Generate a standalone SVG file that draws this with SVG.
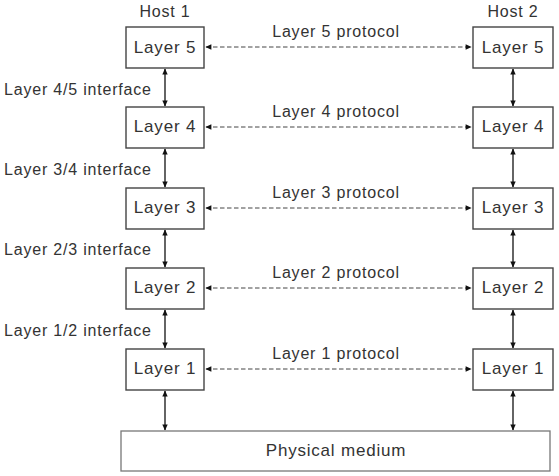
<svg xmlns="http://www.w3.org/2000/svg" width="559" height="476" viewBox="0 0 559 476">
<defs>
<marker id="ah" viewBox="0 0 10 10" refX="9" refY="5" markerWidth="7" markerHeight="6" orient="auto-start-reverse" markerUnits="userSpaceOnUse">
<path d="M0,0.5 L10,5 L0,9.5 Z" fill="#111"/>
</marker>
</defs>
<style>
text{font-family:"Liberation Sans",Arial,sans-serif;font-size:16px;letter-spacing:0.8px;fill:#333}
.c{text-anchor:middle}
.b{font-size:17px}
.box{fill:#fff;stroke:#444;stroke-width:1.4}
.pbox{fill:#fff;stroke:#777;stroke-width:1.3}
.v{stroke:#111;stroke-width:1.3;fill:none}
.d{stroke:#444;stroke-width:1;stroke-dasharray:4.5,2.5;fill:none}
</style>
<text class="c" x="165" y="17">Host 1</text>
<text class="c" x="513" y="17">Host 2</text>
<g id="connectors">
<line class="v" x1="165" y1="69" x2="165" y2="106" marker-start="url(#ah)" marker-end="url(#ah)"/>
<line class="v" x1="165" y1="149" x2="165" y2="187" marker-start="url(#ah)" marker-end="url(#ah)"/>
<line class="v" x1="165" y1="230" x2="165" y2="267" marker-start="url(#ah)" marker-end="url(#ah)"/>
<line class="v" x1="165" y1="310" x2="165" y2="348" marker-start="url(#ah)" marker-end="url(#ah)"/>
<line class="v" x1="165" y1="391" x2="165" y2="430" marker-start="url(#ah)" marker-end="url(#ah)"/>
<line class="v" x1="513" y1="69" x2="513" y2="106" marker-start="url(#ah)" marker-end="url(#ah)"/>
<line class="v" x1="513" y1="149" x2="513" y2="187" marker-start="url(#ah)" marker-end="url(#ah)"/>
<line class="v" x1="513" y1="230" x2="513" y2="267" marker-start="url(#ah)" marker-end="url(#ah)"/>
<line class="v" x1="513" y1="310" x2="513" y2="348" marker-start="url(#ah)" marker-end="url(#ah)"/>
<line class="v" x1="513" y1="391" x2="513" y2="430" marker-start="url(#ah)" marker-end="url(#ah)"/>
<line class="d" x1="206" y1="47" x2="471" y2="47" marker-start="url(#ah)" marker-end="url(#ah)"/>
<line class="d" x1="206" y1="127" x2="471" y2="127" marker-start="url(#ah)" marker-end="url(#ah)"/>
<line class="d" x1="206" y1="208" x2="471" y2="208" marker-start="url(#ah)" marker-end="url(#ah)"/>
<line class="d" x1="206" y1="288" x2="471" y2="288" marker-start="url(#ah)" marker-end="url(#ah)"/>
<line class="d" x1="206" y1="369" x2="471" y2="369" marker-start="url(#ah)" marker-end="url(#ah)"/>
<text class="c" x="336" y="37">Layer 5 protocol</text>
<text class="c" x="336" y="117">Layer 4 protocol</text>
<text class="c" x="336" y="198">Layer 3 protocol</text>
<text class="c" x="336" y="278">Layer 2 protocol</text>
<text class="c" x="336" y="359">Layer 1 protocol</text>
<text x="4" y="95">Layer 4/5 interface</text>
<text x="4" y="175">Layer 3/4 interface</text>
<text x="4" y="255">Layer 2/3 interface</text>
<text x="4" y="336">Layer 1/2 interface</text>
</g>
<g id="h1l5"><rect class="box" x="126" y="27" width="78" height="41"/><text class="c b" x="165" y="53">Layer 5</text></g>
<g id="h1l4"><rect class="box" x="126" y="107" width="78" height="41"/><text class="c b" x="165" y="132">Layer 4</text></g>
<g id="h1l3"><rect class="box" x="126" y="188" width="78" height="41"/><text class="c b" x="165" y="213">Layer 3</text></g>
<g id="h1l2"><rect class="box" x="126" y="268" width="78" height="41"/><text class="c b" x="165" y="293">Layer 2</text></g>
<g id="h1l1"><rect class="box" x="126" y="349" width="78" height="41"/><text class="c b" x="165" y="374">Layer 1</text></g>
<g id="h2l5"><rect class="box" x="473" y="27" width="80" height="41"/><text class="c b" x="513" y="53">Layer 5</text></g>
<g id="h2l4"><rect class="box" x="473" y="107" width="80" height="41"/><text class="c b" x="513" y="132">Layer 4</text></g>
<g id="h2l3"><rect class="box" x="473" y="188" width="80" height="41"/><text class="c b" x="513" y="213">Layer 3</text></g>
<g id="h2l2"><rect class="box" x="473" y="268" width="80" height="41"/><text class="c b" x="513" y="293">Layer 2</text></g>
<g id="h2l1"><rect class="box" x="473" y="349" width="80" height="41"/><text class="c b" x="513" y="374">Layer 1</text></g>
<g id="phys"><rect class="pbox" x="121" y="431" width="429" height="40"/><text class="c b" x="336" y="456">Physical medium</text></g>
</svg>
